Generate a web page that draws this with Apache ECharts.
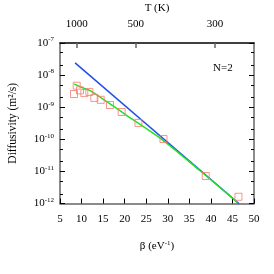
<!DOCTYPE html>
<html><head><meta charset="utf-8">
<script src="https://cdn.jsdelivr.net/npm/echarts@6/dist/echarts.min.js"></script>
<style>html,body{margin:0;padding:0;background:#fff}#c{width:274px;height:274px}</style>
</head><body><div id="c"></div>
<script>
// Data (beta in eV^-1, diffusivity in m^2/s)
var squareBeta = [8.25, 8.87, 9.64, 10.64, 11.8, 12.96, 14.44, 16.6, 19.3, 23.2, 29.0, 38.8, 46.4];
var squareD    = [2.57e-9, 4.68e-9, 3.35e-9, 2.75e-9, 2.99e-9, 1.95e-9, 1.70e-9, 1.17e-9, 7.1e-10, 3.24e-10, 1.02e-10, 7.2e-12, 1.62e-12];
var greenBeta  = [8.3, 10.1, 12.0, 20.1, 28.6, 37.5, 46.2];
var greenD     = [5.3e-9, 4.07e-9, 3.31e-9, 6.0e-10, 1.0e-10, 1.05e-11, 1.07e-12];
var blueBeta   = [8.5, 46.5];
var blueD      = [2.4e-8, 1.0e-12];
var topTickBeta = [8.87, 22.56, 40.96];
var topTickT    = ['1000', '500', '300'];
var majorY = [1e-12, 1e-11, 1e-10, 1e-9, 1e-8, 1e-7];
var minorY = [2e-12,5e-12,2e-11,5e-11,2e-10,5e-10,2e-9,5e-9,2e-8,5e-8];

function pairs(a, b) { return a.map(function (v, i) { return [v, b[i]]; }); }
var FONT = 'Liberation Serif';
var AX = '#666';
var chart = echarts.init(document.getElementById('c'), null, {renderer: 'canvas'});
var supRich = {
  b: {fontFamily: FONT, fontSize: 11, color: '#000'},
  s: {fontFamily: FONT, fontSize: 7, color: '#000', padding: [0, 0, 7, 0]}
};
function yAxisBase(pos, extra) {
  var o = {
    type: 'log', logBase: 10, min: 1e-12, max: 1e-7, position: pos,
    axisLine: {show: true, lineStyle: {color: AX, width: 1.5}},
    splitLine: {show: false},
    axisLabel: {show: false},
    axisTick: {show: true, inside: true, length: 5, lineStyle: {color: '#000'}, customValues: majorY}
  };
  for (var k in extra) o[k] = extra[k];
  return o;
}
chart.setOption({
  animation: false,
  grid: {left: 60, right: 20, top: 43, bottom: 70.5, outerBoundsMode: 'none', containLabel: false},
  xAxis: [{
    type: 'value', min: 5, max: 50, interval: 5, position: 'bottom',
    axisLine: {lineStyle: {color: AX, width: 1.5}},
    axisTick: {inside: true, length: 5, lineStyle: {color: '#000'}},
    splitLine: {show: false},
    axisLabel: {fontFamily: FONT, fontSize: 11, color: '#000', margin: 10},
    name: '{n|β (eV}{s|-1}{n|)}', nameLocation: 'middle', nameGap: 36,
    nameTextStyle: {rich: {
      n: {fontFamily: FONT, fontSize: 11, color: '#000'},
      s: {fontFamily: FONT, fontSize: 7, color: '#000', padding: [0, 0, 7, 0]}
    }}
  }, {
    type: 'value', min: 5, max: 50, position: 'top',
    axisLine: {lineStyle: {color: '#000', width: 1.5}},
    axisTick: {inside: true, length: 5, lineStyle: {color: AX, width: 1.5}, customValues: topTickBeta},
    splitLine: {show: false},
    axisLabel: {fontFamily: FONT, fontSize: 11, color: '#000', margin: 13,
      customValues: topTickBeta,
      formatter: function (v) { var i = topTickBeta.indexOf(v); return i >= 0 ? topTickT[i] : ''; }},
    name: 'T (K)', nameLocation: 'middle', nameGap: 28,
    nameTextStyle: {fontFamily: FONT, fontSize: 11, color: '#000'}
  }],
  yAxis: [
    yAxisBase('left', {
      axisLabel: {show: true, margin: 6, customValues: majorY, rich: supRich,
        formatter: function (v) { return '{b|10}{s|' + Math.round(Math.log10(v)) + '}'; }},
      name: 'Diffusivity (m²/s)', nameLocation: 'middle', nameRotate: 90, nameGap: 41,
      nameTextStyle: {fontFamily: FONT, fontSize: 11.5, color: '#000'}
    }),
    yAxisBase('right', {}),
    yAxisBase('left', {axisLine: {show: false}, axisTick: {show: true, inside: true, length: 3, lineStyle: {color: '#000'}, customValues: minorY}}),
    yAxisBase('right', {axisLine: {show: false}, axisTick: {show: true, inside: true, length: 3, lineStyle: {color: '#000'}, customValues: minorY}})
  ],
  graphic: [{
    type: 'text', left: 213, top: 63,
    style: {text: 'N=2', fontFamily: FONT, fontSize: 11, fill: '#000'}
  }],
  series: [{
    type: 'line', data: pairs(blueBeta, blueD), showSymbol: false,
    lineStyle: {color: '#1f4fe8', width: 1.5}, z: 3
  }, {
    type: 'line', data: pairs(greenBeta, greenD), showSymbol: false, smooth: 0.3,
    lineStyle: {color: '#22e022', width: 1.5}, z: 4
  }, {
    type: 'scatter', data: pairs(squareBeta, squareD), symbol: 'rect', symbolSize: 7,
    itemStyle: {color: 'rgba(0,0,0,0)', borderColor: '#f47a6c', borderWidth: 1}, z: 5
  }]
});
</script></body></html>
